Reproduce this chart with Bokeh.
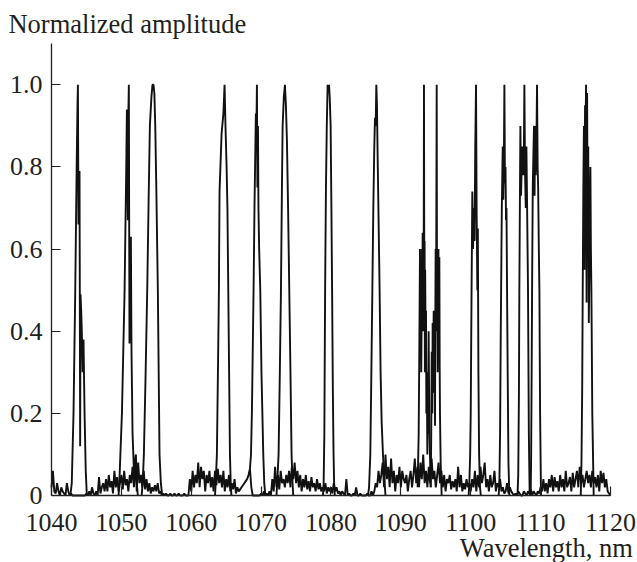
from bokeh.plotting import figure
from bokeh.models import Range1d, FixedTicker, Label
from bokeh.embed import file_html
from bokeh.resources import INLINE

# ---------------- data ----------------
x_ticks = [1040, 1050, 1060, 1070, 1080, 1090, 1100, 1110, 1120]
y_ticks = [0, 0.2, 0.4, 0.6, 0.8, 1.0]
y_tick_labels = ["0", "0.2", "0.4", "0.6", "0.8", "1.0"]

# background noise sampled every 0.2 nm from 1040.0 nm
noise_start = 1040.0
noise_step = 0.2
noise_amp = [
    0.02, 0.06, 0.01, 0.005, 0.03, 0.01, 0.0, 0.02, 0.01, 0.005, 0.0, 0.03, 0.01, 0.0, 0.005, 0.0, 0.0, 0.0, 0.0, 0.0, 0.0, 0.0, 0.0, 0.0, 0.0,
    0.005, 0.0, 0.01, 0.0, 0.02, 0.005, 0.0, 0.01, 0.0, 0.045, 0.005, 0.02, 0.03, 0.01, 0.04, 0.01, 0.05, 0.02, 0.035, 0.005, 0.06, 0.02, 0.045, 0.01, 0.03,
    0.05, 0.015, 0.06, 0.025, 0.04, 0.01, 0.05, 0.03, 0.07, 0.02, 0.09, 0.01, 0.08, 0.03, 0.05, 0.02, 0.06, 0.015, 0.04, 0.01, 0.03, 0.005, 0.02, 0.01, 0.025,
    0.01, 0.03, 0.005, 0.01, 0.0, 0.005, 0.0, 0.005, 0.0, 0.0, 0.005, 0.0, 0.0, 0.005, 0.0, 0.0, 0.005, 0.0, 0.0, 0.0, 0.005, 0.0, 0.0, 0.0, 0.04,
    0.01, 0.06, 0.02, 0.05, 0.03, 0.08, 0.02, 0.07, 0.04, 0.06, 0.01, 0.05, 0.03, 0.06, 0.02, 0.045, 0.01, 0.06, 0.025, 0.065, 0.03, 0.05, 0.02, 0.06, 0.01,
    0.04, 0.02, 0.05, 0.01, 0.03, 0.015, 0.04, 0.005, 0.02, 0.01, 0.015, 0.02, 0.025, 0.03, 0.035, 0.04, 0.05, 0.065, 0.02, 0.0, 0.0, 0.0, 0.0, 0.0, 0.0,
    0.005, 0.0, 0.01, 0.0, 0.005, 0.0, 0.01, 0.0, 0.04, 0.01, 0.07, 0.02, 0.05, 0.015, 0.06, 0.03, 0.04, 0.02, 0.05, 0.03, 0.06, 0.02, 0.07, 0.04, 0.08,
    0.03, 0.06, 0.02, 0.05, 0.01, 0.04, 0.02, 0.05, 0.015, 0.035, 0.01, 0.045, 0.02, 0.03, 0.01, 0.04, 0.015, 0.03, 0.01, 0.02, 0.01, 0.03, 0.005, 0.02, 0.01,
    0.02, 0.005, 0.03, 0.01, 0.02, 0.005, 0.01, 0.0, 0.01, 0.005, 0.0, 0.04, 0.0, 0.005, 0.0, 0.0, 0.005, 0.0, 0.02, 0.0, 0.0, 0.005, 0.0, 0.0, 0.0,
    0.0, 0.005, 0.0, 0.0, 0.01, 0.0, 0.01, 0.03, 0.02, 0.06, 0.03, 0.05, 0.08, 0.02, 0.1, 0.04, 0.07, 0.02, 0.09, 0.03, 0.06, 0.01, 0.05, 0.03, 0.07,
    0.02, 0.06, 0.04, 0.03, 0.05, 0.01, 0.04, 0.06, 0.02, 0.05, 0.09, 0.03, 0.07, 0.02, 0.08, 0.04, 0.1, 0.03, 0.06, 0.02, 0.07, 0.03, 0.09, 0.04, 0.06,
    0.02, 0.05, 0.08, 0.03, 0.06, 0.02, 0.05, 0.01, 0.04, 0.03, 0.05, 0.015, 0.035, 0.02, 0.04, 0.01, 0.07, 0.02, 0.05, 0.01, 0.03, 0.015, 0.04, 0.02, 0.03,
    0.01, 0.04, 0.02, 0.06, 0.01, 0.05, 0.02, 0.07, 0.03, 0.05, 0.08, 0.02, 0.04, 0.01, 0.05, 0.02, 0.03, 0.06, 0.01, 0.03, 0.02, 0.04, 0.01, 0.02, 0.005,
    0.01, 0.03, 0.005, 0.02, 0.01, 0.005, 0.0, 0.005, 0.0, 0.01, 0.005, 0.0, 0.0, 0.01, 0.005, 0.0, 0.01, 0.005, 0.015, 0.0, 0.01, 0.005, 0.0, 0.01, 0.005,
    0.02, 0.01, 0.04, 0.01, 0.03, 0.005, 0.04, 0.02, 0.05, 0.01, 0.045, 0.02, 0.035, 0.01, 0.05, 0.02, 0.04, 0.01, 0.06, 0.02, 0.03, 0.045, 0.01, 0.055, 0.02,
    0.04, 0.06, 0.02, 0.07, 0.03, 0.05, 0.02, 0.04, 0.06, 0.03, 0.05, 0.02, 0.06, 0.03, 0.045, 0.02, 0.05, 0.01, 0.06, 0.03, 0.055, 0.02, 0.04, 0.01, 0.005,
    0.0,
]

peak01_wl = [1042.7, 1042.9, 1043.15, 1043.4, 1043.6, 1043.72, 1043.78, 1043.86, 1043.95, 1044.01, 1044.1, 1044.15, 1044.25, 1044.34, 1044.45, 1044.58, 1044.73, 1044.9, 1045.06]
peak01_amp = [0.0, 0.03, 0.2, 0.5, 0.8, 0.95, 1.0, 0.66, 0.7, 0.79, 0.12, 0.49, 0.45, 0.4, 0.3, 0.38, 0.2, 0.06, 0.0]

peak02_wl = [1049.6, 1049.75, 1050.08, 1050.46, 1050.7, 1050.79, 1050.93, 1050.97, 1051.07, 1051.16, 1051.25, 1051.36, 1051.45, 1051.6, 1051.8, 1052.08, 1052.2, 1052.36]
peak02_amp = [0.0, 0.05, 0.2, 0.5, 0.8, 0.94, 0.67, 0.9, 1.0, 0.37, 0.55, 0.63, 0.35, 0.15, 0.06, 0.1, 0.03, 0.0]

peak03_wl = [1052.9, 1053.05, 1053.22, 1053.45, 1053.7, 1053.9, 1054.08, 1054.3, 1054.45, 1054.6, 1054.72, 1054.85, 1055.0, 1055.22, 1055.46, 1055.65, 1055.85]
peak03_amp = [0.0, 0.03, 0.1, 0.28, 0.5, 0.72, 0.9, 0.97, 1.0, 1.0, 0.98, 0.9, 0.75, 0.5, 0.1, 0.03, 0.0]

peak04_wl = [1063.4, 1063.5, 1063.67, 1063.82, 1063.96, 1064.05, 1064.34, 1064.6, 1064.77, 1064.9, 1065.06, 1065.18, 1065.3, 1065.42, 1065.54, 1065.65, 1065.75]
peak04_amp = [0.0, 0.03, 0.1, 0.3, 0.5, 0.74, 0.88, 0.93, 1.0, 0.9, 0.8, 0.7, 0.5, 0.3, 0.1, 0.03, 0.0]

peak05_wl = [1068.4, 1068.55, 1068.68, 1068.8, 1068.92, 1069.05, 1069.18, 1069.25, 1069.32, 1069.4, 1069.47, 1069.55, 1069.62, 1069.72, 1069.88, 1070.05, 1070.31, 1070.45, 1070.6]
peak05_amp = [0.065, 0.1, 0.2, 0.35, 0.5, 0.7, 0.85, 0.93, 0.88, 1.0, 0.75, 0.9, 0.7, 0.6, 0.5, 0.3, 0.1, 0.03, 0.0]

peak06_wl = [1072.2, 1072.3, 1072.5, 1072.68, 1072.84, 1072.98, 1073.08, 1073.25, 1073.41, 1073.55, 1073.7, 1073.86, 1074.03, 1074.2, 1074.36, 1074.5, 1074.6]
peak06_amp = [0.0, 0.03, 0.1, 0.3, 0.5, 0.75, 0.9, 0.97, 1.0, 0.95, 0.86, 0.7, 0.5, 0.3, 0.1, 0.03, 0.0]

peak07_wl = [1078.85, 1078.95, 1079.05, 1079.16, 1079.28, 1079.4, 1079.52, 1079.62, 1079.72, 1079.82, 1079.95, 1080.06, 1080.16, 1080.27, 1080.37, 1080.45, 1080.55]
peak07_amp = [0.0, 0.03, 0.15, 0.5, 0.75, 0.9, 1.0, 0.98, 1.0, 0.97, 0.9, 0.7, 0.5, 0.25, 0.1, 0.03, 0.0]

peak08_wl = [1085.3, 1085.45, 1085.63, 1085.78, 1085.92, 1086.06, 1086.2, 1086.3, 1086.4, 1086.49, 1086.58, 1086.7, 1086.83, 1086.96, 1087.1, 1087.25, 1087.44, 1087.6, 1087.8]
peak08_amp = [0.0, 0.02, 0.1, 0.3, 0.5, 0.7, 0.85, 0.92, 0.9, 1.0, 0.95, 0.8, 0.65, 0.5, 0.3, 0.18, 0.1, 0.05, 0.0]

peak09_wl = [1092.4, 1092.55, 1092.62, 1092.68, 1092.74, 1092.8, 1092.85, 1092.92, 1092.98, 1093.03, 1093.06, 1093.12, 1093.16, 1093.2, 1093.25, 1093.31,
             1093.36, 1093.4, 1093.44, 1093.48, 1093.55, 1093.6, 1093.65, 1093.72, 1093.79, 1093.85, 1093.9, 1093.98, 1094.04, 1094.1, 1094.27]
peak09_amp = [0.02, 0.15, 0.3, 0.45, 0.6, 0.35, 0.5, 0.3, 0.45, 0.6, 0.4, 0.64, 0.45, 0.55, 0.4, 1.0,
              0.5, 0.62, 0.3, 0.55, 0.35, 0.45, 0.2, 0.3, 0.1, 0.25, 0.15, 0.4, 0.25, 0.15, 0.02]

peak10_wl = [1094.27, 1094.35, 1094.42, 1094.5, 1094.55, 1094.62, 1094.7, 1094.76, 1094.82, 1094.89, 1094.94, 1094.98, 1095.02, 1095.05, 1095.13, 1095.18,
             1095.22, 1095.27, 1095.33, 1095.38, 1095.44, 1095.51, 1095.56, 1095.6, 1095.7, 1095.84]
peak10_amp = [0.02, 0.15, 0.35, 0.2, 0.42, 0.3, 0.45, 0.25, 0.38, 0.17, 0.45, 0.6, 0.4, 0.5, 1.0, 0.4,
              0.55, 0.3, 0.45, 0.6, 0.35, 0.58, 0.3, 0.2, 0.08, 0.0]

peak11_wl = [1099.7, 1099.8, 1099.92, 1100.0, 1100.12, 1100.23, 1100.33, 1100.45, 1100.55, 1100.65, 1100.76, 1100.85, 1100.95, 1101.02, 1101.1, 1101.2, 1101.33, 1101.45]
peak11_amp = [0.0, 0.03, 0.1, 0.2, 0.5, 0.74, 0.6, 0.7, 0.62, 0.85, 1.0, 0.68, 0.5, 0.65, 0.3, 0.1, 0.02, 0.0]

peak12_wl = [1104.0, 1104.1, 1104.2, 1104.3, 1104.45, 1104.58, 1104.66, 1104.74, 1104.82, 1104.9, 1104.98, 1105.05, 1105.12, 1105.2, 1105.29, 1105.4, 1105.53]
peak12_amp = [0.0, 0.03, 0.15, 0.4, 0.7, 0.85, 0.72, 0.8, 1.0, 0.76, 0.8, 0.67, 0.7, 0.5, 0.3, 0.08, 0.0]

peak13_wl = [1106.7, 1106.8, 1106.9, 1106.96, 1107.05, 1107.11, 1107.2, 1107.3, 1107.4, 1107.5, 1107.6, 1107.68, 1107.78, 1107.88, 1107.97, 1108.06, 1108.2, 1108.32, 1108.44]
peak13_amp = [0.0, 0.05, 0.25, 0.5, 0.75, 0.9, 0.73, 0.8, 0.85, 0.78, 0.82, 1.0, 0.78, 0.7, 0.85, 0.72, 0.5, 0.15, 0.0]

peak14_wl = [1108.58, 1108.65, 1108.72, 1108.8, 1108.88, 1108.97, 1109.06, 1109.14, 1109.2, 1109.3, 1109.4, 1109.49, 1109.58, 1109.65, 1109.75, 1109.83, 1109.93, 1110.06]
peak14_amp = [0.0, 0.1, 0.3, 0.55, 0.75, 0.83, 0.9, 0.73, 0.9, 0.78, 0.85, 1.0, 0.8, 0.75, 0.6, 0.5, 0.2, 0.0]

peak15_wl = [1115.75, 1115.85, 1115.95, 1116.03, 1116.12, 1116.2, 1116.28, 1116.36, 1116.44, 1116.51, 1116.58, 1116.66, 1116.74, 1116.82, 1116.9, 1116.98, 1117.06, 1117.13, 1117.2, 1117.27, 1117.4, 1117.6]
peak15_amp = [0.0, 0.08, 0.25, 0.5, 0.75, 0.9, 0.55, 0.95, 0.9, 1.0, 0.47, 0.98, 0.6, 0.85, 0.42, 0.55, 0.7, 0.8, 0.6, 0.5, 0.2, 0.0]

peaks = [
    (peak01_wl, peak01_amp), (peak02_wl, peak02_amp), (peak03_wl, peak03_amp),
    (peak04_wl, peak04_amp), (peak05_wl, peak05_amp), (peak06_wl, peak06_amp),
    (peak07_wl, peak07_amp), (peak08_wl, peak08_amp), (peak09_wl, peak09_amp),
    (peak10_wl, peak10_amp), (peak11_wl, peak11_amp), (peak12_wl, peak12_amp),
    (peak13_wl, peak13_amp), (peak14_wl, peak14_amp), (peak15_wl, peak15_amp),
]

# ---------------- figure ----------------
FONT = "Liberation Serif"
FSIZE = "26px"
TITLE_SIZE = "26.5px"
TXT = "#231f20"
LINE = "#111111"

# frame fills the canvas; axes are pinned at x=1040 and y=0
p = figure(width=637, height=562,
           x_range=Range1d(1032.70, 1123.87), y_range=Range1d(-0.1631, 1.2053),
           output_backend="svg", toolbar_location=None, min_border=0)

p.background_fill_color = "white"
p.border_fill_color = "white"
p.outline_line_color = None
p.xgrid.visible = False
p.ygrid.visible = False

noise_wl = [noise_start + noise_step * i for i in range(len(noise_amp))]
p.line(noise_wl, noise_amp, line_color=LINE, line_width=1.9)
for wl, amp in peaks:
    p.line(wl, amp, line_color=LINE, line_width=1.9)

p.xaxis.ticker = FixedTicker(ticks=x_ticks)
p.yaxis.ticker = FixedTicker(ticks=y_ticks)
p.yaxis.major_label_overrides = {t: s for t, s in zip(y_ticks, y_tick_labels)}
p.xaxis.fixed_location = 0
p.yaxis.fixed_location = 1040
p.xaxis.bounds = (1040, 1120)
p.yaxis.bounds = (0, 1.1)

for ax in (p.xaxis[0], p.yaxis[0]):
    ax.major_tick_in = 9
    ax.major_tick_out = 0
    ax.minor_tick_line_color = None
    ax.axis_line_color = TXT
    ax.axis_line_width = 1.3
    ax.major_tick_line_color = TXT
    ax.major_tick_line_width = 1.2
    ax.major_label_text_font = FONT
    ax.major_label_text_font_size = FSIZE
    ax.major_label_text_color = TXT

p.yaxis.major_label_standoff = 9
p.xaxis.major_label_standoff = 18

p.add_layout(Label(x=1033.84, y=1.148, text="Normalized amplitude",
                   text_font=FONT, text_font_size=TITLE_SIZE, text_color=TXT,
                   text_align="left", text_baseline="alphabetic"))
p.add_layout(Label(x=1123.19, y=-0.1278, text="Wavelength, nm",
                   text_font=FONT, text_font_size=TITLE_SIZE, text_color=TXT,
                   text_align="right", text_baseline="alphabetic"))

open("out.html", "w").write(file_html(p, INLINE))
